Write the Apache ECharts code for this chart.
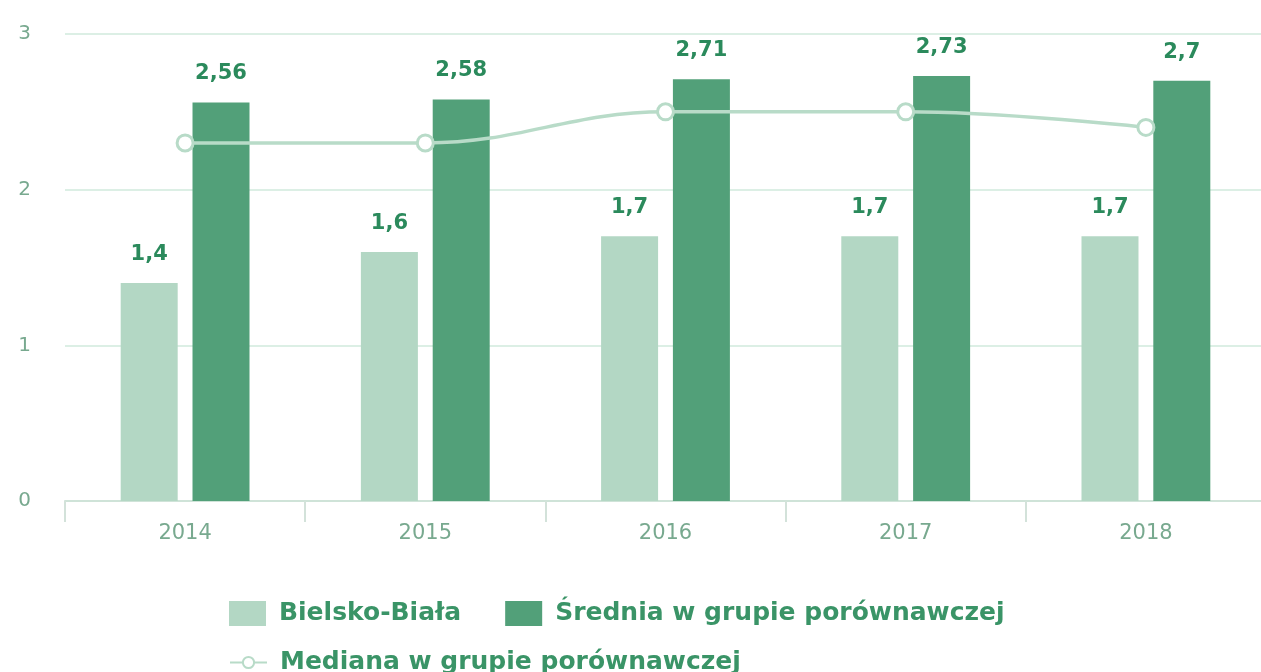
<!DOCTYPE html>
<html>
<head>
<meta charset="utf-8">
<script src="https://cdn.jsdelivr.net/npm/echarts@6/dist/echarts.min.js"></script>
<style>
  html, body { margin: 0; padding: 0; background: #fff; overflow: hidden; }
  /* the plot runs a few pixels past the right edge of the picture */
  #chart { width: 1266px; height: 672px; }
</style>
</head>
<body>
<div id="chart"></div>
<script>
// data
var years = ["2014", "2015", "2016", "2017", "2018"];
var bielsko = [1.4, 1.6, 1.7, 1.7, 1.7];
var srednia = [2.56, 2.58, 2.71, 2.73, 2.7];
var mediana = [2.3, 2.3, 2.5, 2.5, 2.4];
var yTicks = [0, 1, 2, 3];

var font = "DejaVu Sans";
var labelColor = "#2b8a5c";

function comma(p) {
  return String(p.value).replace(".", ",");
}

var legendText = { fontFamily: font, fontSize: 25, fontWeight: "bold", color: "#3a9467", padding: [0, 0, 0, 8] };

var chart = echarts.init(document.getElementById("chart"));
chart.setOption({
  animation: false,
  textStyle: { fontFamily: font },
  grid: { left: 65, right: 0, top: 34, bottom: 171 },
  legend: [
    {
      // first row: the two bar series
      data: [
        { name: "Bielsko-Biała", icon: "rect" },
        { name: "Średnia w grupie porównawczej", icon: "rect" }
      ],
      left: 229, top: 601, padding: 0,
      itemWidth: 37, itemHeight: 25, itemGap: 44,
      textStyle: legendText
    },
    {
      // second row: the median line
      data: ["Mediana w grupie porównawczej"],
      left: 229, top: 650, padding: 0,
      itemWidth: 37, itemHeight: 14,
      textStyle: legendText
    }
  ],
  xAxis: {
    type: "category",
    data: years,
    axisLine: { lineStyle: { color: "#cfe3d8", width: 2 } },
    axisTick: { show: true, length: 21, lineStyle: { color: "#d3e2da", width: 2 } },
    axisLabel: { fontSize: 21, color: "#78a98f", margin: 22 }
  },
  yAxis: {
    type: "value",
    min: yTicks[0],
    max: yTicks[yTicks.length - 1],
    interval: 1,
    axisLine: { show: false },
    axisTick: { show: false },
    splitLine: { lineStyle: { color: "#dcefe5", width: 2 } },
    axisLabel: { fontSize: 20, color: "#78a98f", margin: 34 }
  },
  series: [
    {
      name: "Bielsko-Biała",
      type: "bar",
      data: bielsko,
      barWidth: 57,
      barGap: "26%",
      itemStyle: { color: "#b3d7c4" },
      label: {
        show: true, position: "top", distance: 18,
        formatter: comma,
        fontFamily: font, fontSize: 21, fontWeight: "bold", color: labelColor
      }
    },
    {
      name: "Średnia w grupie porównawczej",
      type: "bar",
      data: srednia,
      barWidth: 57,
      itemStyle: { color: "#52a079" },
      label: {
        show: true, position: "top", distance: 18,
        formatter: comma,
        fontFamily: font, fontSize: 21, fontWeight: "bold", color: labelColor
      }
    },
    {
      name: "Mediana w grupie porównawczej",
      type: "line",
      data: mediana,
      smooth: 0.4,
      symbol: "circle",
      symbolSize: 16,
      z: 5,
      lineStyle: { color: "#b8dbc8", width: 3.5 },
      itemStyle: { color: "#ffffff", borderColor: "#b8dbc8", borderWidth: 3 }
    }
  ]
});
</script>
</body>
</html>
